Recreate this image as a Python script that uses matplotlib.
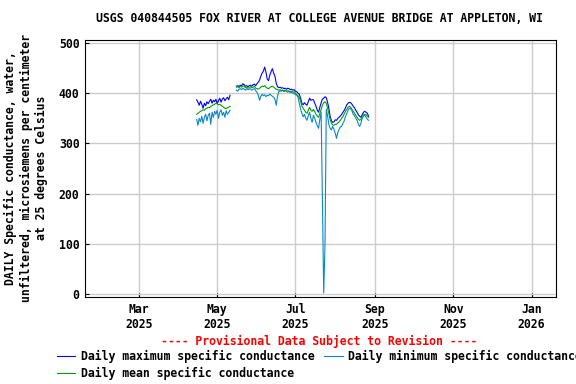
import matplotlib
matplotlib.use('Agg')
from matplotlib import pyplot as plt
import numpy as np
import pandas as pd

# Daily values, first stretch (Apr 15 - May 11, 2025)
dager1 = pd.date_range('2025-04-15', '2025-05-11', freq='D')
maks1 = [387, 382, 376, 384, 378, 370, 380, 375, 383, 379, 384, 388, 380, 386,
         383, 388, 379, 385, 390, 382, 388, 391, 385, 389, 392, 387, 396]
snitt1 = [358, 360, 362, 364, 365, 367, 366, 369, 370, 372, 371, 374, 375, 377,
          378, 380, 379, 377, 378, 376, 374, 372, 370, 369, 371, 372, 374]
min1 = [348, 336, 350, 343, 354, 340, 352, 358, 345, 356, 360, 338, 362, 352,
        364, 358, 366, 350, 362, 367, 356, 362, 352, 365, 358, 362, 366]

# Daily values, second stretch (May 16 - Aug 27, 2025)
dager2 = pd.date_range('2025-05-16', '2025-08-27', freq='D')
maks2 = [414, 415, 413, 416, 415, 419, 417, 414, 415, 413, 415, 416, 414, 417,
         418, 415, 419, 422, 426, 434, 440, 444, 452, 442, 428, 425, 436, 443,
         449, 440, 434, 420, 413, 411, 412, 410, 411, 409, 410, 408, 410, 409,
         407, 408, 406, 407, 404,
         403, 400, 398, 390, 380, 377, 381, 378, 376, 383, 390, 386, 387, 387,
         380, 374, 366, 362, 372, 381, 388, 390, 393, 391, 382, 370, 354, 345,
         342, 343, 347, 346, 350, 352, 355, 358, 362, 366, 371, 377, 380, 382,
         381, 378, 374, 371, 366, 362, 357, 354, 352, 357, 362, 364, 362, 360,
         354]
snitt2 = [412, 413, 411, 414, 412, 415, 414, 411, 412, 410, 411, 413, 411, 412,
          414, 410, 409, 408, 410, 412, 414, 413, 415, 412, 410, 409, 411, 413,
          414, 412, 410, 408, 407, 406, 407, 405, 406, 405, 406, 404, 405, 404,
          403, 404, 402, 403, 400,
          397, 395, 391, 384, 374, 370, 366, 362, 360, 366, 372, 366, 364, 368,
          363, 358, 354, 352, 360, 368, 376, 381, 383, 380, 370, 360, 348, 340,
          337, 336, 338, 338, 341, 343, 346, 350, 354, 359, 364, 368, 372, 374,
          372, 368, 364, 360, 356, 352, 348, 346, 348, 354, 357, 358, 357, 354,
          352]
min2 = [406, 404, 408, 409, 407, 410, 408, 406, 409, 407, 408, 409, 406, 408,
        409, 405, 402, 396, 386, 394, 398, 395, 397, 393, 396, 395, 398, 396,
        394, 392, 388, 376, 394, 403, 405, 404, 406, 403, 405, 404, 402, 404,
        401, 402, 400, 399, 397,
        397, 391, 380, 368, 360, 353, 358, 350, 346, 355, 362, 350, 342, 356,
        350, 342, 335, 330, 348, 362, 187, 2, 97, 368, 355, 338, 330, 327,
        334, 328, 320, 310, 322, 328, 333, 334, 340, 345, 354, 360, 366, 370,
        369, 365, 358, 355, 350, 346, 338, 334, 340, 350, 354, 356, 352, 348,
        346]

tittel = 'USGS 040844505 FOX RIVER AT COLLEGE AVENUE BRIDGE AT APPLETON, WI'
y_tekst = ('DAILY Specific conductance, water,\n'
           'unfiltered, microsiemens per centimeter\n'
           'at 25 degrees Celsius')
x_ticks = pd.to_datetime(['2025-03-01', '2025-05-01', '2025-07-01',
                          '2025-09-01', '2025-11-01', '2026-01-01'])
x_labels = ['Mar\n2025', 'May\n2025', 'Jul\n2025', 'Sep\n2025',
            'Nov\n2025', 'Jan\n2026']
y_ticks = [0, 100, 200, 300, 400, 500]

plt.rcParams['font.family'] = 'DejaVu Sans Mono'
plt.rcParams['font.weight'] = 'bold'
plt.rcParams['font.size'] = 8.3

fig = plt.figure(figsize=(5.76, 3.84), dpi=100)
ax = fig.add_axes([85/576, 87/384, 471/576, 257/384])

blaa = '#0000ff'
lysblaa = '#0a88c8'
gronn = '#00a400'

l_maks, = ax.plot(dager1, maks1, color=blaa, lw=0.8,
                  label='Daily maximum specific conductance')
ax.plot(dager2, maks2, color=blaa, lw=0.8)
l_min, = ax.plot(dager1, min1, color=lysblaa, lw=0.8,
                 label='Daily minimum specific conductance')
ax.plot(dager2, min2, color=lysblaa, lw=0.8)
l_snitt, = ax.plot(dager1, snitt1, color=gronn, lw=0.8,
                   label='Daily mean specific conductance')
ax.plot(dager2, snitt2, color=gronn, lw=0.8)

ax.set_xlim(pd.Timestamp('2025-01-18'), pd.Timestamp('2026-01-20'))
ax.set_ylim(-6, 506)
ax.set_xticks(x_ticks)
ax.set_xticklabels(x_labels)
ax.set_yticks(y_ticks)
ax.grid(True, color='#cccccc', lw=1)
ax.set_axisbelow(True)
ax.tick_params(direction='in', length=3, color='black', pad=4)
for s in ax.spines.values():
    s.set_color('black')
    s.set_linewidth(0.8)

fig.text(319/576, 1 - 18/384, tittel, ha='center', va='center')
fig.text(26/576, 0.5 + (384/2 - 168)/384, y_tekst, rotation=90,
         ha='center', va='center', multialignment='center')
fig.text(319/576, 1 - 341/384, '---- Provisional Data Subject to Revision ----',
         color='#ff0000', ha='center', va='center')

fig.legend(handles=[l_maks, l_snitt, l_min], ncol=2, frameon=False,
           loc='upper left', bbox_to_anchor=(57/576, 1 - 350/384),
           handlelength=1.6, handletextpad=0.5, columnspacing=0.8,
           borderaxespad=0, borderpad=0, labelspacing=0.35)

fig.savefig('out.png', dpi=100)
